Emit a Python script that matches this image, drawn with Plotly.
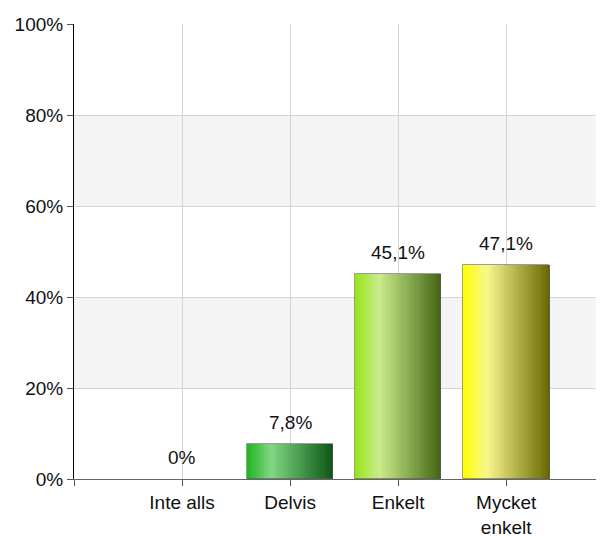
import plotly.graph_objects as go

categories = ["Inte alls", "Delvis", "Enkelt", "Mycket<br>enkelt"]
values = [0, 7.8, 45.1, 47.1]
y_ticks = [0, 20, 40, 60, 80, 100]

# left edge, highlight, right edge colour for each bar (horizontal gradient)
bar_stops = [
    [(40, 180, 40), (130, 215, 130), (10, 85, 20)],
    [(30, 180, 30), (130, 215, 130), (10, 85, 20)],
    [(150, 228, 25), (202, 236, 140), (66, 100, 18)],
    [(255, 255, 0), (248, 246, 140), (104, 104, 0)],
]

x_pos = list(range(len(categories)))
labels = [f"{v:g}".replace(".", ",") + "%" for v in values]


def mix(c1, c2, t):
    return tuple(round(a + (b - a) * t) for a, b in zip(c1, c2))


def grad_color(stops, t):
    hi = 0.28
    if t < hi:
        c = mix(stops[0], stops[1], t / hi)
    else:
        c = mix(stops[1], stops[2], (t - hi) / (1 - hi))
    return "rgb(%d,%d,%d)" % c


fig = go.Figure()

bar_w = 0.8
n_slices = 40
slice_w = bar_w / n_slices
for i in range(n_slices):
    t = (i + 0.5) / n_slices
    fig.add_trace(go.Bar(
        x=x_pos,
        y=values,
        width=slice_w * 1.05,
        offset=-bar_w / 2 + i * slice_w,
        marker=dict(color=[grad_color(s, t) for s in bar_stops], line=dict(width=0)),
        hoverinfo="skip",
        showlegend=False,
    ))

# outline (no outline on empty bars)
fig.add_trace(go.Bar(
    x=x_pos,
    y=values,
    width=bar_w,
    marker=dict(
        color="rgba(0,0,0,0)",
        line=dict(width=1, color=["rgba(90,90,90,0.6)" if v > 0 else "rgba(0,0,0,0)" for v in values]),
    ),
    hovertext=labels,
    hoverinfo="text",
    showlegend=False,
))

# value labels a bit above the bars
for x, v, lab in zip(x_pos, values, labels):
    fig.add_annotation(x=x, y=v, text=lab, showarrow=False, yanchor="bottom",
                       yshift=9, font=dict(size=19, color="#111111"))

# alternating background bands
for y0 in [20, 60]:
    fig.add_shape(type="rect", xref="paper", yref="y", x0=0, x1=1, y0=y0, y1=y0 + 20,
                  fillcolor="#f4f4f4", line=dict(width=0), layer="below")

# the page body adds an 8px margin, so the figure is 8px smaller than the window
fig.update_layout(
    width=596,
    height=528,
    margin=dict(l=66, r=0, t=16, b=57, autoexpand=False),
    paper_bgcolor="white",
    plot_bgcolor="white",
    barmode="overlay",
    bargap=0,
    font=dict(family="Liberation Sans, Arial, sans-serif", size=19, color="#111111"),
    xaxis=dict(
        range=[-1, 3.905],
        tickvals=[-1] + x_pos,
        ticktext=[""] + categories,
        showgrid=True,
        gridcolor="#d4d4d4",
        gridwidth=1,
        zeroline=False,
        showline=True,
        linecolor="#666666",
        linewidth=1,
        ticks="outside",
        ticklen=6,
        tickcolor="#555555",
        tickfont=dict(size=19),
    ),
    yaxis=dict(
        range=[0, 100],
        tickvals=y_ticks,
        ticktext=[f"{v}%" for v in y_ticks],
        showgrid=True,
        gridcolor="#d4d4d4",
        zeroline=False,
        showline=True,
        linecolor="#000000",
        linewidth=1,
        ticks="outside",
        ticklen=6,
        tickcolor="#555555",
        tickfont=dict(size=19),
    ),
)

fig.write_html("out.html")
